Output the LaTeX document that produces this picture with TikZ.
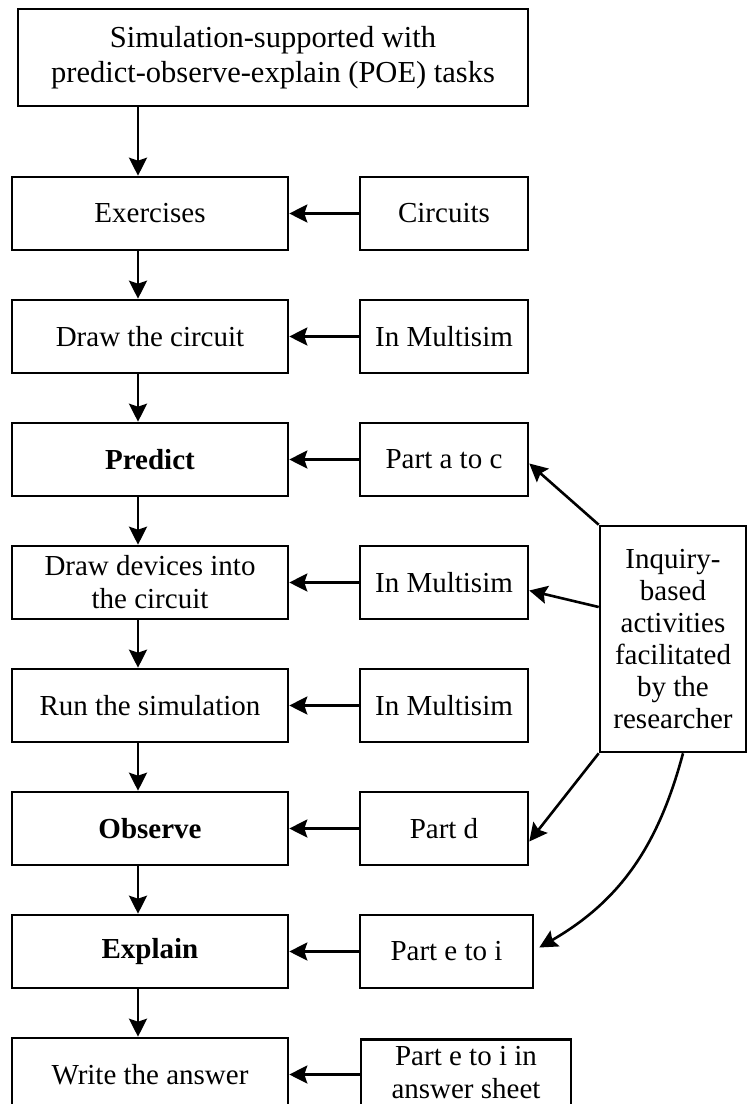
\documentclass[tikz,border=0pt]{standalone}
\usepackage{fontspec}
\setmainfont{Liberation Serif}
\usetikzlibrary{arrows.meta}

\begin{document}
\begin{tikzpicture}[x=1pt, y=-1pt,
    stagebox/.style={rectangle, draw=black, line width=2.6pt, minimum width=276pt, minimum height=73pt, inner sep=2pt, align=center, font=\fontsize{29}{33}\selectfont},
    inbox/.style={stagebox, minimum width=168pt},
    arrowline/.style={-{Stealth[length=18pt, width=18pt, inset=3pt]}, line width=2.6pt}
]
\useasboundingbox (0,0) rectangle (747,1104);

% Task box (top)
\node[stagebox, minimum width=510pt, minimum height=97pt, font=\fontsize{30.5}{35}\selectfont] (poe) at (273, 57.5) {Simulation-supported with\\predict-observe-explain (POE) tasks};

% Steps (left)
\node[stagebox] (ex) at (150, 213.5) {Exercises};
\node[stagebox] (dc) at (150, 336.5) {Draw the circuit};
\node[stagebox] (pr) at (150, 459.5) {\bfseries Predict};
\node[stagebox] (dd) at (150, 582.5) {Draw devices into\\the circuit};
\node[stagebox] (rs) at (150, 705.5) {Run the simulation};
\node[stagebox] (ob) at (150, 828.5) {\bfseries Observe};
\node[stagebox] (xp) at (150, 951.5) {\bfseries Explain};
\node[stagebox] (wa) at (150, 1074.5) {Write the answer};

% Inputs (right)
\node[inbox] (circ) at (444, 213.5) {Circuits};
\node[inbox] (ms1) at (444, 336.5) {In Multisim};
\node[inbox] (pac) at (444, 459.5) {Part a to c};
\node[inbox] (ms2) at (444, 582.5) {In Multisim};
\node[inbox] (ms3) at (444, 705.5) {In Multisim};
\node[inbox] (pd) at (444, 828.5) {Part d};
\node[inbox, minimum width=173pt] (pei) at (446.5, 951.5) {Part e to i};
\node[inbox, minimum width=210pt, anchor=north, text depth=6pt] (pas) at (466, 1038) {Part e to i in\\answer sheet};

% Researcher box
\node[stagebox, minimum width=146pt, minimum height=226pt, font=\fontsize{29}{32}\selectfont] (inq) at (673, 639) {Inquiry-\\based\\activities\\facilitated\\by the\\researcher};

% Flow down
\coordinate (exin) at ([xshift=-12pt]ex.north);
\draw[arrowline] (poe.south -| exin) -- (exin);
\draw[arrowline] ([xshift=-12pt]ex.south) -- ([xshift=-12pt]dc.north);
\draw[arrowline] ([xshift=-12pt]dc.south) -- ([xshift=-12pt]pr.north);
\draw[arrowline] ([xshift=-12pt]pr.south) -- ([xshift=-12pt]dd.north);
\draw[arrowline] ([xshift=-12pt]dd.south) -- ([xshift=-12pt]rs.north);
\draw[arrowline] ([xshift=-12pt]rs.south) -- ([xshift=-12pt]ob.north);
\draw[arrowline] ([xshift=-12pt]ob.south) -- ([xshift=-12pt]xp.north);
\draw[arrowline] ([xshift=-12pt]xp.south) -- ([xshift=-12pt]wa.north);

% Inputs into steps
\draw[arrowline] (circ) -- (ex);
\draw[arrowline] (ms1) -- (dc);
\draw[arrowline] (pac) -- (pr);
\draw[arrowline] (ms2) -- (dd);
\draw[arrowline] (ms3) -- (rs);
\draw[arrowline] (pd) -- (ob);
\draw[arrowline] (pei) -- (xp);
\draw[arrowline] (pas.west |- wa) -- (wa);

% Researcher links
\draw[arrowline] (inq.north west) -- ([yshift=-4pt]pac.east);
\draw[arrowline] ([yshift=32pt]inq.west) -- ([yshift=-8pt]ms2.east);
\draw[arrowline] (inq.south west) -- ([yshift=-13pt]pd.east);
\draw[arrowline] ([xshift=10pt]inq.south) to[out=-105, in=30] ([xshift=5pt, yshift=4pt]pei.east);
\end{tikzpicture}
\end{document}
